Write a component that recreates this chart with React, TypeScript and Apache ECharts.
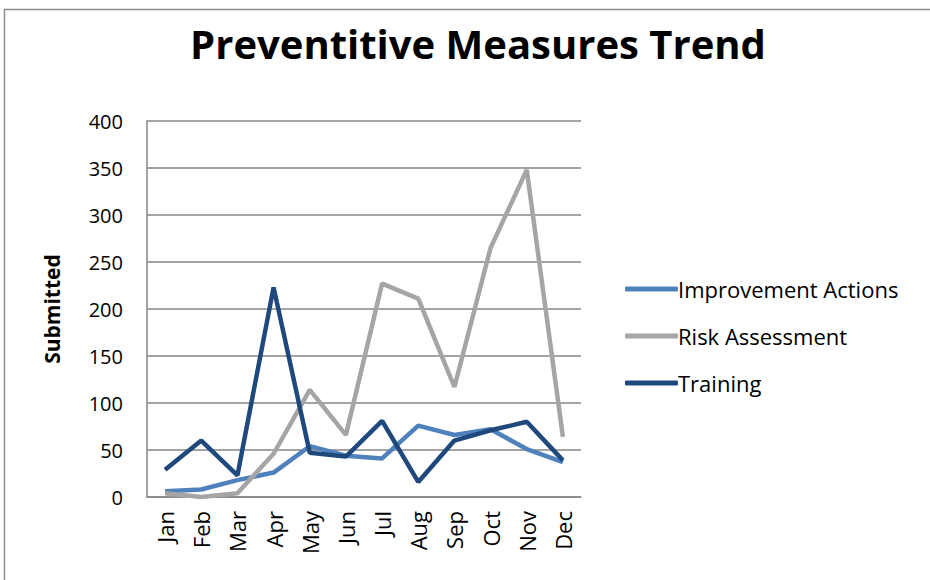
import React, { useEffect, useRef } from "react";
import * as echarts from "echarts";

const months = ["Jan", "Feb", "Mar", "Apr", "May", "Jun", "Jul", "Aug", "Sep", "Oct", "Nov", "Dec"];
const improvementActions = [6, 8, 18, 26, 54, 44, 41, 76, 66, 72, 51, 37];
const riskAssessment = [4, 0, 4, 46, 114, 66, 227, 211, 117, 265, 348, 64];
const training = [29, 60, 23, 223, 47, 43, 81, 16, 60, 71, 80, 39];

export default function App() {
  const ref = useRef<HTMLDivElement>(null);
  useEffect(() => {
    document.body.style.margin = "0";
    const chart = echarts.init(ref.current!, null, { renderer: "svg" });
    const font = "'Open Sans', 'Liberation Sans', sans-serif";
    chart.setOption({
      animation: false,
      backgroundColor: "#ffffff",
      title: {
        text: "Preventitive Measures Trend",
        left: 473,
        top: 18,
        textAlign: "center",
        textStyle: { fontFamily: font, fontWeight: "bold", fontSize: 40, color: "#000" },
      },
      graphic: [
        {
          type: "rect",
          shape: { x: 4.5, y: 9.5, width: 1000, height: 1000 },
          style: { fill: "none", stroke: "#8c8c8c", lineWidth: 1.5 },
          silent: true,
        },
      ],
      legend: {
        orient: "vertical",
        left: 620,
        top: 272,
        itemWidth: 53,
        itemHeight: 5,
        itemGap: 23,
        icon: "roundRect",
        textStyle: { fontFamily: font, fontSize: 22, lineHeight: 24, color: "#000", padding: [0, 0, 0, -5] },
        data: ["Improvement Actions", "Risk Assessment", "Training"],
      },
      grid: { left: 147, right: 349, top: 121, bottom: 83 },
      xAxis: {
        type: "category",
        data: months,
        boundaryGap: true,
        axisLine: { lineStyle: { color: "#868686", width: 1.5 } },
        axisTick: { show: false },
        axisLabel: { rotate: 90, fontFamily: font, fontSize: 22, color: "#000", margin: 14, interval: 0 },
      },
      yAxis: {
        type: "value",
        min: 0,
        max: 400,
        interval: 50,
        name: "Submitted",
        nameLocation: "middle",
        nameGap: 85,
        nameTextStyle: { fontFamily: font, fontSize: 21, fontWeight: "bold", color: "#000" },
        axisLine: { show: true, lineStyle: { color: "#868686", width: 1.5 } },
        axisTick: { show: false },
        splitLine: { lineStyle: { color: "#868686", width: 1.5 } },
        axisLabel: { fontFamily: font, fontSize: 20, color: "#000", margin: 24 },
      },
      series: [
        {
          name: "Improvement Actions",
          type: "line",
          data: improvementActions,
          symbol: "none",
          lineStyle: { color: "#4F81BD", width: 4.5 },
          itemStyle: { color: "#4F81BD" },
        },
        {
          name: "Risk Assessment",
          type: "line",
          data: riskAssessment,
          symbol: "none",
          lineStyle: { color: "#A5A5A5", width: 4.5 },
          itemStyle: { color: "#A5A5A5" },
        },
        {
          name: "Training",
          type: "line",
          data: training,
          symbol: "none",
          lineStyle: { color: "#1F497D", width: 4.5 },
          itemStyle: { color: "#1F497D" },
        },
      ],
    });
    return () => chart.dispose();
  }, []);
  return <div ref={ref} style={{ width: 930, height: 580 }} />;
}
